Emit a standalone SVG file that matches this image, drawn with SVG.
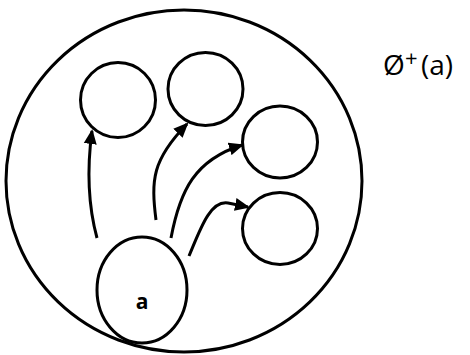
<svg xmlns="http://www.w3.org/2000/svg" width="470" height="355" viewBox="0 0 470 355">
<defs>
<style>
.n{fill:none;stroke:#000;stroke-width:3}
.e{fill:none;stroke:#000;stroke-width:3;marker-end:url(#ah)}
.lbl{font-family:"Open Sans","Liberation Sans",sans-serif;fill:#000}
</style>
<marker id="ah" markerUnits="userSpaceOnUse" markerWidth="15" markerHeight="14" refX="13" refY="6.5" orient="auto" viewBox="0 0 15 13">
<path d="M0,0 L15,6.5 L0,13 z" fill="#000"/>
</marker>
</defs>
<g id="set"><ellipse class="n" cx="184" cy="181" rx="178" ry="171"/></g>
<g id="n1"><circle class="n" cx="118" cy="100" r="37.5"/></g>
<g id="n2"><ellipse class="n" cx="205.5" cy="89" rx="37.5" ry="36.5"/></g>
<g id="n3"><ellipse class="n" cx="280" cy="142" rx="37.5" ry="36"/></g>
<g id="n4"><ellipse class="n" cx="280" cy="228.5" rx="37.5" ry="36"/></g>
<g id="na"><ellipse class="n" cx="142" cy="290" rx="45" ry="53"/>
<text class="lbl" x="142" y="309" font-size="21" font-weight="bold" text-anchor="middle">a</text></g>
<g id="title"><text class="lbl" x="383" y="75" font-size="28">Ø</text><text class="lbl" x="405" y="66" font-size="22">+</text><text class="lbl" x="421" y="75" font-size="28">(a)</text></g>
<g id="edges">
<path class="e" d="M97,238 Q84,190 92,131"/>
<path class="e" d="M156,220 C151,180 152,160 187,124"/>
<path class="e" d="M171,238 C180,190 195,160 242,145"/>
<path class="e" d="M189,256 C200,230 210,200 228,203 L248,207"/>
</g>
</svg>
